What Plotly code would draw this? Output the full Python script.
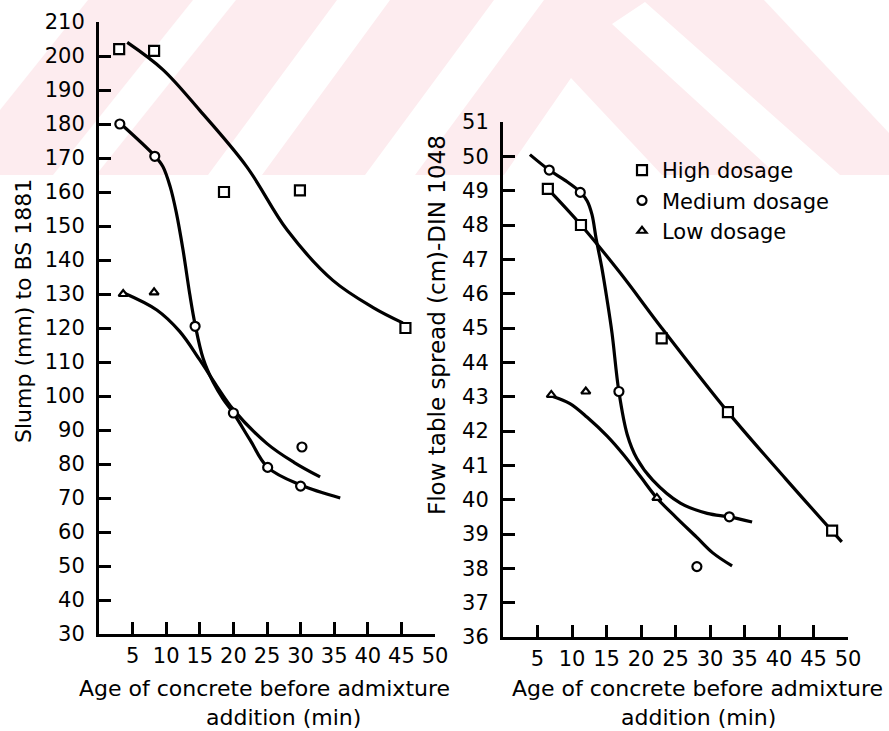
import plotly.graph_objects as go

# ---- Slump (mm) to BS 1881 vs age of concrete (left panel) ----
slump_high_x = [3, 8.2, 18.6, 29.9, 45.6]
slump_high_y = [202, 201.5, 160, 160.5, 120]
slump_med_x = [3.1, 8.3, 14.3, 20, 25.1, 30, 30.2]
slump_med_y = [180, 170.5, 120.5, 95, 79, 73.5, 85]
slump_low_x = [3.6, 8.2]
slump_low_y = [130, 130.5]

# fitted curves (left panel)
slump_high_fit_x = [4.2, 9.5, 15, 22, 28, 34.8, 40.8, 45.2]
slump_high_fit_y = [204, 196, 184, 167.4, 148.8, 134, 126, 121.5]
slump_med_fit_x = [3.1, 8.3, 9.5, 10.6, 11.5, 12.5, 13.5, 14.3, 15.5, 17, 18.5, 20,
                   22.5, 25.1, 30, 35.9]
slump_med_fit_y = [180.3, 170.6, 167.5, 161.5, 154, 143, 130, 121, 111, 104, 99, 95,
                   87, 79, 73.8, 70]
slump_low_fit_x = [3.7, 8.6, 12, 15, 17.5, 20, 25, 29, 32.9]
slump_low_fit_y = [130.3, 125.3, 119, 110.6, 103, 96, 86, 80.5, 76.2]

# ---- Flow table spread (cm) - DIN 1048 (right panel) ----
flow_high_x = [6.5, 11.3, 23, 32.6, 47.7]
flow_high_y = [49.05, 48.0, 44.7, 42.55, 39.1]
flow_med_x = [6.7, 11.2, 16.8, 32.8, 28.1]
flow_med_y = [49.6, 48.95, 43.15, 39.5, 38.05]
flow_low_x = [7.0, 12.0, 22.3]
flow_low_y = [43.05, 43.15, 40.05]

# fitted curves (right panel)
flow_high_fit_x = [6.5, 11.3, 17, 23, 32.6, 41, 49.1]
flow_high_fit_y = [49.05, 48.0, 46.6, 45.0, 42.55, 40.6, 38.77]
flow_med_fit_x = [3.9, 6.7, 9, 11.2, 12.2, 12.9, 13.5, 14.3, 15.1, 15.8, 16.8,
                  18, 19.4, 21.7, 25.7, 29.6, 32.8, 36.1]
flow_med_fit_y = [50.05, 49.6, 49.3, 48.96, 48.7, 48.3, 47.6, 46.78, 45.8, 44.85, 43.14,
                  41.9, 41.2, 40.57, 39.9, 39.6, 39.5, 39.35]
flow_low_fit_x = [7.0, 9.7, 12.2, 15.1, 17.5, 20, 22.3, 25, 28.1, 30.4, 33.2]
flow_low_fit_y = [43.02, 42.8, 42.4, 41.85, 41.3, 40.65, 40.05, 39.5, 38.9, 38.45, 38.07]

series_names = ["High dosage", "Medium dosage", "Low dosage"]
x_ticks = list(range(5, 55, 5))
slump_ticks = list(range(30, 220, 10))
flow_ticks = list(range(36, 52))

W, H = 889, 731
FONT = "DejaVu Sans"
INK = "black"

fig = go.Figure()


def curve(xs, ys, xa, ya):
    fig.add_trace(go.Scatter(
        x=xs, y=ys, mode="lines", xaxis=xa, yaxis=ya, showlegend=False,
        line=dict(color=INK, width=3.2, shape="spline", smoothing=1.0),
        hoverinfo="skip"))


def points(xs, ys, symbol, size, xa, ya, name=None):
    fig.add_trace(go.Scatter(
        x=xs, y=ys, mode="markers", xaxis=xa, yaxis=ya,
        name=name, showlegend=name is not None,
        marker=dict(symbol=symbol, size=size, color="white",
                    line=dict(color=INK, width=2.2))))


# left panel
curve(slump_high_fit_x, slump_high_fit_y, "x", "y")
curve(slump_med_fit_x, slump_med_fit_y, "x", "y")
curve(slump_low_fit_x, slump_low_fit_y, "x", "y")
points(slump_high_x, slump_high_y, "square", 10, "x", "y")
points(slump_med_x, slump_med_y, "circle", 9, "x", "y")
points(slump_low_x, slump_low_y, "triangle-up", 8, "x", "y")

# right panel
curve(flow_high_fit_x, flow_high_fit_y, "x2", "y2")
curve(flow_med_fit_x, flow_med_fit_y, "x2", "y2")
curve(flow_low_fit_x, flow_low_fit_y, "x2", "y2")
points(flow_high_x, flow_high_y, "square", 10, "x2", "y2", series_names[0])
points(flow_med_x, flow_med_y, "circle", 9, "x2", "y2", series_names[1])
points(flow_low_x, flow_low_y, "triangle-up", 8, "x2", "y2", series_names[2])


def px_x(p):
    return p / W


def px_y(p):
    return 1 - p / H


axis_common = dict(
    showline=True, linewidth=3, linecolor=INK, mirror=False,
    showgrid=False, zeroline=False, automargin=False,
    ticks="inside", ticklen=12, tickwidth=2.5, tickcolor=INK,
    tickfont=dict(family=FONT, size=21, color=INK),
)

fig.update_layout(
    width=W, height=H,
    margin=dict(l=0, r=0, t=0, b=0, pad=0, autoexpand=False),
    paper_bgcolor="white", plot_bgcolor="rgba(0,0,0,0)",
    font=dict(family=FONT, color=INK),
    xaxis=dict(domain=[px_x(99), px_x(435)], range=[0, 50], tickvals=x_ticks,
               anchor="y", ticklabelstandoff=1, **axis_common),
    yaxis=dict(domain=[px_y(634), px_y(22)], range=[30, 210], tickvals=slump_ticks,
               anchor="x", ticklabelstandoff=7, **axis_common),
    xaxis2=dict(domain=[px_x(503), px_x(848)], range=[0, 50], tickvals=x_ticks,
                anchor="y2", ticklabelstandoff=1, **axis_common),
    yaxis2=dict(domain=[px_y(637), px_y(122)], range=[36, 51], tickvals=flow_ticks,
                anchor="x2", ticklabelstandoff=7, **axis_common),
    legend=dict(x=px_x(622), y=px_y(150), xanchor="left", yanchor="top",
                bgcolor="rgba(0,0,0,0)", borderwidth=0, itemwidth=30,
                font=dict(family=FONT, size=21, color=INK), tracegroupgap=0),
    showlegend=True,
)


# axis titles
def label(text, x, y, angle=0, size=22):
    fig.add_annotation(text=text, x=px_x(x), y=px_y(y), xref="paper", yref="paper",
                       xanchor="center", yanchor="middle",
                       showarrow=False, textangle=angle,
                       font=dict(family=FONT, size=size, color=INK))


label("Slump (mm) to BS 1881", 23, 311, -90, 22)
label("Flow table spread (cm)-DIN 1048", 437, 325, -90, 23)
label("Age of concrete before admixture", 264, 688, 0, 22)
label("addition (min)", 283, 717, 0, 22)
label("Age of concrete before admixture", 697, 688, 0, 22)
label("addition (min)", 698, 717, 0, 22)

# pale striped logo band across the top of the page
PINK = "#fdecef"


def poly(pts, color):
    path = "M " + " L ".join(f"{px_x(a):.5f},{px_y(b):.5f}" for a, b in pts) + " Z"
    fig.add_shape(type="path", path=path, xref="paper", yref="paper",
                  fillcolor=color, line=dict(width=0), layer="below")


poly([(0, 0), (W, 0), (W, 175), (0, 175)], PINK)
poly([(0, 0), (88, 0), (0, 110)], "white")
poly([(193, 0), (236, 0), (96, 175), (53, 175)], "white")
poly([(337, 0), (390, 0), (262, 175), (208, 175)], "white")
poly([(494, 0), (544, 0), (415, 175), (365, 175)], "white")
poly([(571, 78), (662, 175), (504, 175)], "white")
poly([(612, 24), (645, 2), (840, 175), (777, 175)], "white")
poly([(764, 0), (W, 0), (W, 133)], "white")

fig.write_html("out.html")
